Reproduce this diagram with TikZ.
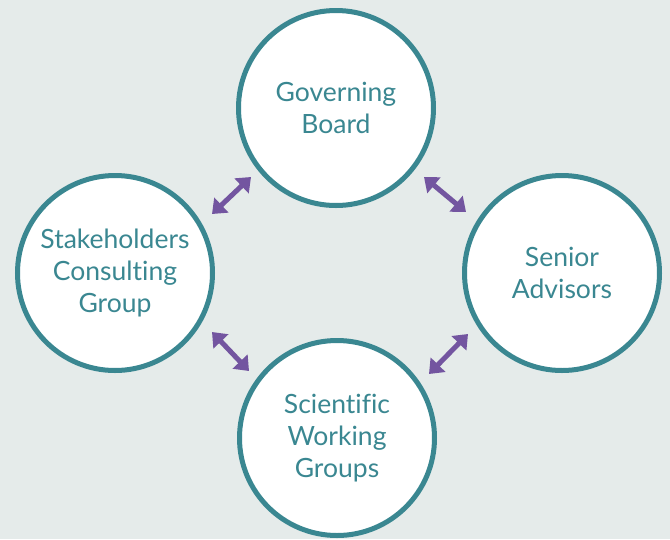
\documentclass[tikz,border=0pt]{standalone}
\usepackage{fontspec}
\setmainfont{Lato}[Ligatures=NoCommon]
\usetikzlibrary{arrows.meta}
\definecolor{bg}{HTML}{E5EBEA}
\definecolor{teal}{HTML}{3A8791}
\definecolor{purp}{HTML}{7355A0}
\tikzset{
  circ/.style={circle, draw=teal, line width=5pt, fill=white, minimum size=195pt, inner sep=0pt, text=teal, align=center, font=\fontsize{26.5}{32}\selectfont},
  dbl/.style={purp, line width=5pt, {Triangle[length=13pt,width=20pt]}-{Triangle[length=13pt,width=20pt]}}
}
\begin{document}
\begin{tikzpicture}[x=1pt,y=-1pt]
\fill[bg] (0,0) rectangle (670,539);
\useasboundingbox (0,0) rectangle (670,539);
\node[circ] (gb) at (336,108) {Governing\\Board};
\node[circ] (sc) at (115,273) {Stakeholders\\Consulting\\Group};
\node[circ] (sa) at (562,273) {Senior\\Advisors};
\node[circ] (sw) at (337,438) {Scientific\\Working\\Groups};
\coordinate (a1) at (212,214); \coordinate (a2) at (251,177);
\coordinate (b1) at (424,177); \coordinate (b2) at (466,212);
\coordinate (c1) at (212,332); \coordinate (c2) at (249,371);
\coordinate (d1) at (468,334); \coordinate (d2) at (429,374);
\draw[dbl] (a1) -- (a2);
\draw[dbl] (b1) -- (b2);
\draw[dbl] (c1) -- (c2);
\draw[dbl] (d1) -- (d2);
\end{tikzpicture}
\end{document}
